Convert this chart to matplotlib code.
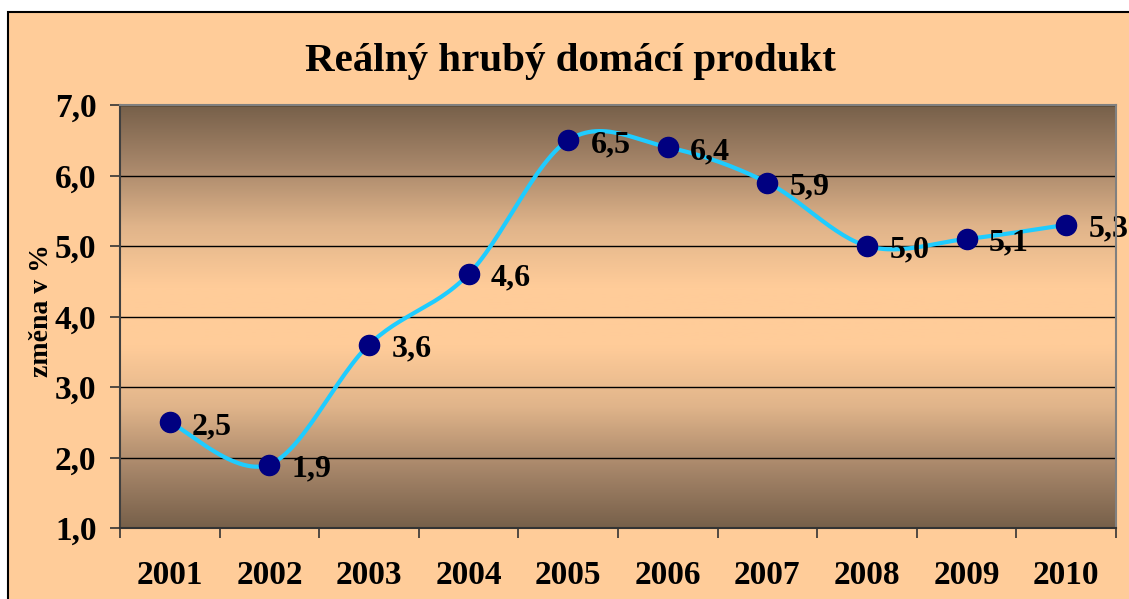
import numpy as np
import matplotlib
matplotlib.use('Agg')
import matplotlib.pyplot as plt
from matplotlib.patches import Rectangle
from matplotlib.colors import LinearSegmentedColormap

# data
years = ['2001', '2002', '2003', '2004', '2005', '2006', '2007', '2008', '2009', '2010']
hdp_change = [2.5, 1.9, 3.6, 4.6, 6.5, 6.4, 5.9, 5.0, 5.1, 5.3]
y_ticks = [1.0, 2.0, 3.0, 4.0, 5.0, 6.0, 7.0]

BG = '#FFCC99'
BROWN = '#77604A'
LINE = '#1FCCFF'
MARKER = '#000080'

plt.rcParams['font.family'] = ['Liberation Serif', 'DejaVu Serif']
plt.rcParams['font.weight'] = 'bold'

W, H = 1129, 599
fig = plt.figure(figsize=(W / 100, H / 100), dpi=100, facecolor='white')

# peach chart area with black border
fig.patches.append(Rectangle((8 / W, -0.01), 1.2, 1 - 12 / H + 0.01, transform=fig.transFigure,
                             facecolor=BG, edgecolor='black', linewidth=1.5, zorder=-5))

ax = fig.add_axes([120 / W, (H - 528) / H, (1116 - 120) / W, (528 - 105) / H])
ax.set_facecolor('none')
ax.set_zorder(2)

# vertical gradient brown -> peach -> brown
cmap = LinearSegmentedColormap.from_list('bg', [BROWN, '#A8876A', '#E0B48A', BG, BG, '#E0B48A', '#A8876A', BROWN])
grad = np.linspace(0, 1, 256).reshape(-1, 1)
ax.imshow(grad, cmap=cmap, aspect='auto', extent=[0, 1, 0, 1], transform=ax.transAxes, zorder=0)

x = np.arange(len(years))
y = np.array(hdp_change)

# smoothed line like Excel (cubic bezier, catmull-rom control points)
px = np.concatenate([[x[0]], x, [x[-1]]])
py = np.concatenate([[y[0]], y, [y[-1]]])
sx, sy = [], []
t = np.linspace(0, 1, 30)
for i in range(1, len(px) - 2):
    p0 = np.array([px[i], py[i]])
    p1 = np.array([px[i + 1], py[i + 1]])
    c1 = p0 + (p1 - np.array([px[i - 1], py[i - 1]])) / 6
    c2 = p1 - (np.array([px[i + 2], py[i + 2]]) - p0) / 6
    b = ((1 - t) ** 3)[:, None] * p0 + (3 * (1 - t) ** 2 * t)[:, None] * c1 \
        + (3 * (1 - t) * t ** 2)[:, None] * c2 + (t ** 3)[:, None] * p1
    sx.extend(b[:, 0])
    sy.extend(b[:, 1])

ax.plot(sx, sy, color=LINE, linewidth=3, zorder=3, solid_capstyle='round')
ax.plot(x, y, linestyle='none', marker='o', markersize=14.5, color=MARKER, zorder=4)

for xi, yi in zip(x, y):
    ax.annotate(f'{yi:.1f}'.replace('.', ','), xy=(xi, yi), xytext=(16, -3),
                textcoords='offset points', ha='left', va='center',
                fontsize=23, fontweight='bold', zorder=5, annotation_clip=False)

ax.set_xlim(-0.5, len(years) - 0.5)
ax.set_ylim(1.0, 7.0)
ax.set_yticks(y_ticks)
ax.set_yticklabels([f'{v:.1f}'.replace('.', ',') for v in y_ticks])
ax.yaxis.grid(True, color='black', linewidth=1)
ax.set_axisbelow(False)
for gl in ax.get_ygridlines():
    gl.set_zorder(1)

ax.set_xticks(np.arange(len(years) + 1) - 0.5)
ax.set_xticklabels([])
ax.set_xticks(x, minor=True)
ax.set_xticklabels(years, minor=True)
ax.tick_params(axis='x', which='major', direction='out', length=7, width=1.2, color='#333333')
ax.tick_params(axis='x', which='minor', length=0, pad=23, labelsize=24)
ax.tick_params(axis='y', direction='out', length=7, width=1.2, color='#333333', pad=10, labelsize=24)

ax.spines['left'].set_color('#404040')
ax.spines['bottom'].set_color('#333333')
ax.spines['top'].set_color('#808080')
ax.spines['right'].set_color('#808080')
for s in ax.spines.values():
    s.set_linewidth(1.5)
    s.set_zorder(6)

ax.set_ylabel('změna v %', fontsize=20, fontweight='bold')
ax.yaxis.set_label_coords(-0.066, 0.515)

fig.text(570 / W, 1 - 61 / H, 'Reálný hrubý domácí produkt', ha='center', va='center',
         fontsize=29.5, fontweight='bold')

fig.savefig('out.png', dpi=100, facecolor=fig.get_facecolor())
